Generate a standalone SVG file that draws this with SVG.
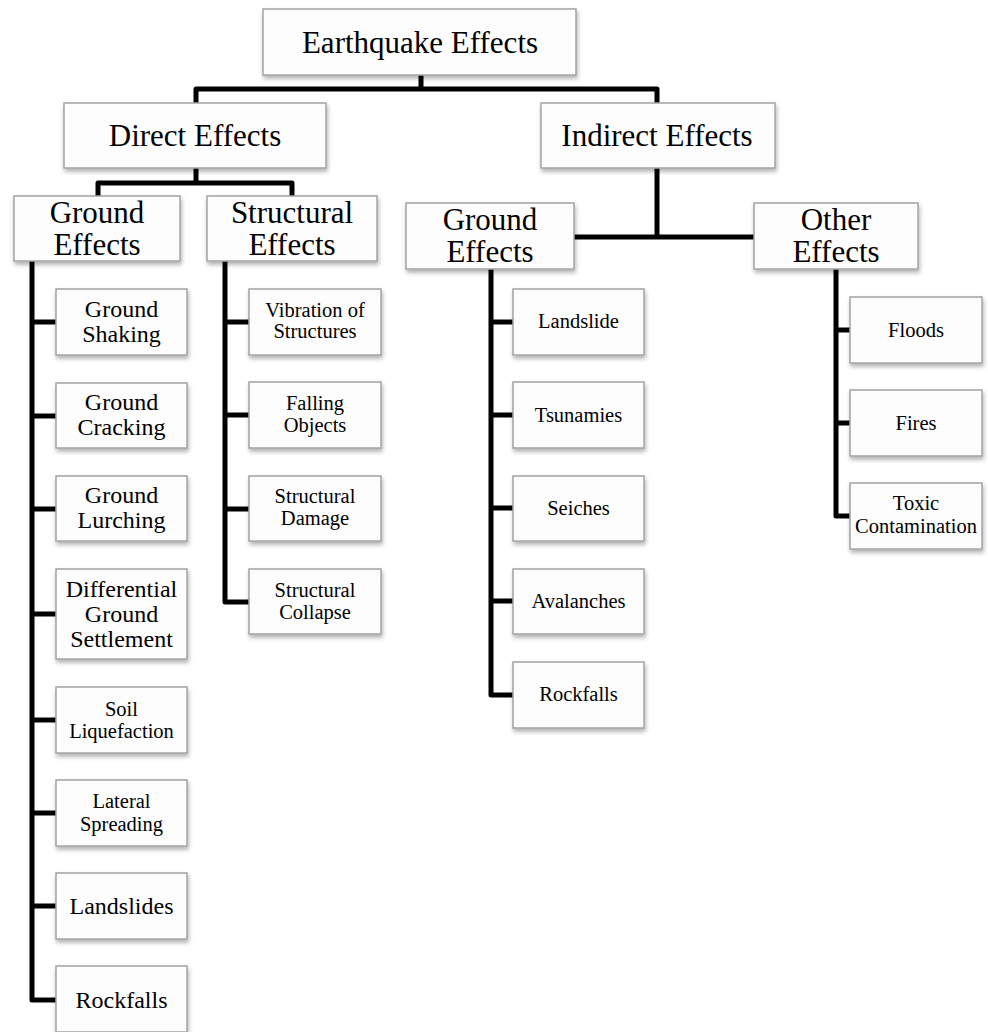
<svg xmlns="http://www.w3.org/2000/svg" width="988" height="1032" viewBox="0 0 988 1032">
<style>
.box{fill:#fdfdfd;stroke:#a3a3a3;stroke-width:1.5;filter:url(#sh)}
.con{fill:none;stroke:#000;stroke-width:5;stroke-linejoin:round}
text{font-family:"Liberation Serif","Times New Roman",serif;fill:#000;text-anchor:middle}
.l1{font-size:31px}
.l3{font-size:24px}
.l4{font-size:20.5px}
</style>
<defs>
<filter id="sh" x="-10%" y="-10%" width="130%" height="140%">
<feDropShadow dx="1" dy="3" stdDeviation="2" flood-color="#000" flood-opacity="0.3"/>
</filter>
</defs>
<rect width="988" height="1032" fill="#fff"/>
<g id="connectors">
<path class="con" d="M421,75 V89"/>
<path class="con" d="M196,103 V89 H657 V103"/>
<path class="con" d="M196,168 V183"/>
<path class="con" d="M98,196 V183 H292 V196"/>
<path class="con" d="M657,168 V237"/>
<path class="con" d="M574,237 H754"/>
<path class="con" d="M32,261 V1000 H56"/>
<path class="con" d="M32,322 H56 M32,416 H56 M32,509 H56 M32,614 H56 M32,720 H56 M32,813 H56 M32,906 H56"/>
<path class="con" d="M225,261 V602 H249"/>
<path class="con" d="M225,322 H249 M225,415 H249 M225,509 H249"/>
<path class="con" d="M491,269 V695 H513"/>
<path class="con" d="M491,322 H513 M491,415 H513 M491,508 H513 M491,601 H513"/>
<path class="con" d="M836,269 V516 H850"/>
<path class="con" d="M836,330 H850 M836,423 H850"/>
</g>
<g id="n-root"><rect class="box" x="263" y="9" width="313" height="66"/><text class="l1" x="420" y="53">Earthquake Effects</text></g>
<g id="n-direct"><rect class="box" x="64" y="103" width="262" height="65"/><text class="l1" x="195" y="146">Direct Effects</text></g>
<g id="n-indirect"><rect class="box" x="541" y="103" width="234" height="65"/><text class="l1" x="657" y="146">Indirect Effects</text></g>
<g id="n-dground"><rect class="box" x="14" y="196" width="166" height="65"/><text class="l1" x="97" y="223">Ground</text><text class="l1" x="97" y="255">Effects</text></g>
<g id="n-structural"><rect class="box" x="207" y="196" width="170" height="65"/><text class="l1" x="292" y="223">Structural</text><text class="l1" x="292" y="255">Effects</text></g>
<g id="n-iground"><rect class="box" x="406" y="203" width="168" height="66"/><text class="l1" x="490" y="230">Ground</text><text class="l1" x="490" y="262">Effects</text></g>
<g id="n-other"><rect class="box" x="754" y="203" width="164" height="66"/><text class="l1" x="836" y="230">Other</text><text class="l1" x="836" y="262">Effects</text></g>
<g id="n-shaking"><rect class="box" x="56" y="289" width="131" height="66"/><text class="l3" x="121.5" y="317">Ground</text><text class="l3" x="121.5" y="342">Shaking</text></g>
<g id="n-cracking"><rect class="box" x="56" y="383" width="131" height="65"/><text class="l3" x="121.5" y="410">Ground</text><text class="l3" x="121.5" y="435">Cracking</text></g>
<g id="n-lurching"><rect class="box" x="56" y="476" width="131" height="65"/><text class="l3" x="121.5" y="503">Ground</text><text class="l3" x="121.5" y="528">Lurching</text></g>
<g id="n-differential"><rect class="box" x="56" y="569" width="131" height="90"/><text class="l3" x="121.5" y="597">Differential</text><text class="l3" x="121.5" y="622">Ground</text><text class="l3" x="121.5" y="647">Settlement</text></g>
<g id="n-soil"><rect class="box" x="56" y="687" width="131" height="66"/><text class="l4" x="121.5" y="716">Soil</text><text class="l4" x="121.5" y="738">Liquefaction</text></g>
<g id="n-lateral"><rect class="box" x="56" y="780" width="131" height="66"/><text class="l4" x="121.5" y="808">Lateral</text><text class="l4" x="121.5" y="831">Spreading</text></g>
<g id="n-dlandslides"><rect class="box" x="56" y="873" width="131" height="66"/><text class="l3" x="121.5" y="914">Landslides</text></g>
<g id="n-drockfalls"><rect class="box" x="56" y="966" width="131" height="66"/><text class="l3" x="121.5" y="1008">Rockfalls</text></g>
<g id="n-vibration"><rect class="box" x="249" y="289" width="132" height="66"/><text class="l4" x="315" y="317">Vibration of</text><text class="l4" x="315" y="338">Structures</text></g>
<g id="n-falling"><rect class="box" x="249" y="382" width="132" height="66"/><text class="l4" x="315" y="410">Falling</text><text class="l4" x="315" y="432">Objects</text></g>
<g id="n-damage"><rect class="box" x="249" y="476" width="132" height="65"/><text class="l4" x="315" y="503">Structural</text><text class="l4" x="315" y="525">Damage</text></g>
<g id="n-collapse"><rect class="box" x="249" y="569" width="132" height="65"/><text class="l4" x="315" y="597">Structural</text><text class="l4" x="315" y="619">Collapse</text></g>
<g id="n-ilandslide"><rect class="box" x="513" y="289" width="131" height="66"/><text class="l4" x="578.5" y="328">Landslide</text></g>
<g id="n-tsunamies"><rect class="box" x="513" y="382" width="131" height="66"/><text class="l4" x="578.5" y="422">Tsunamies</text></g>
<g id="n-seiches"><rect class="box" x="513" y="476" width="131" height="65"/><text class="l4" x="578.5" y="515">Seiches</text></g>
<g id="n-avalanches"><rect class="box" x="513" y="569" width="131" height="65"/><text class="l4" x="578.5" y="608">Avalanches</text></g>
<g id="n-irockfalls"><rect class="box" x="513" y="662" width="131" height="66"/><text class="l4" x="578.5" y="701">Rockfalls</text></g>
<g id="n-floods"><rect class="box" x="850" y="297" width="132" height="66"/><text class="l4" x="916" y="337">Floods</text></g>
<g id="n-fires"><rect class="box" x="850" y="390" width="132" height="66"/><text class="l4" x="916" y="430">Fires</text></g>
<g id="n-toxic"><rect class="box" x="850" y="483" width="132" height="66"/><text class="l4" x="916" y="510">Toxic</text><text class="l4" x="916" y="533">Contamination</text></g>
</svg>
